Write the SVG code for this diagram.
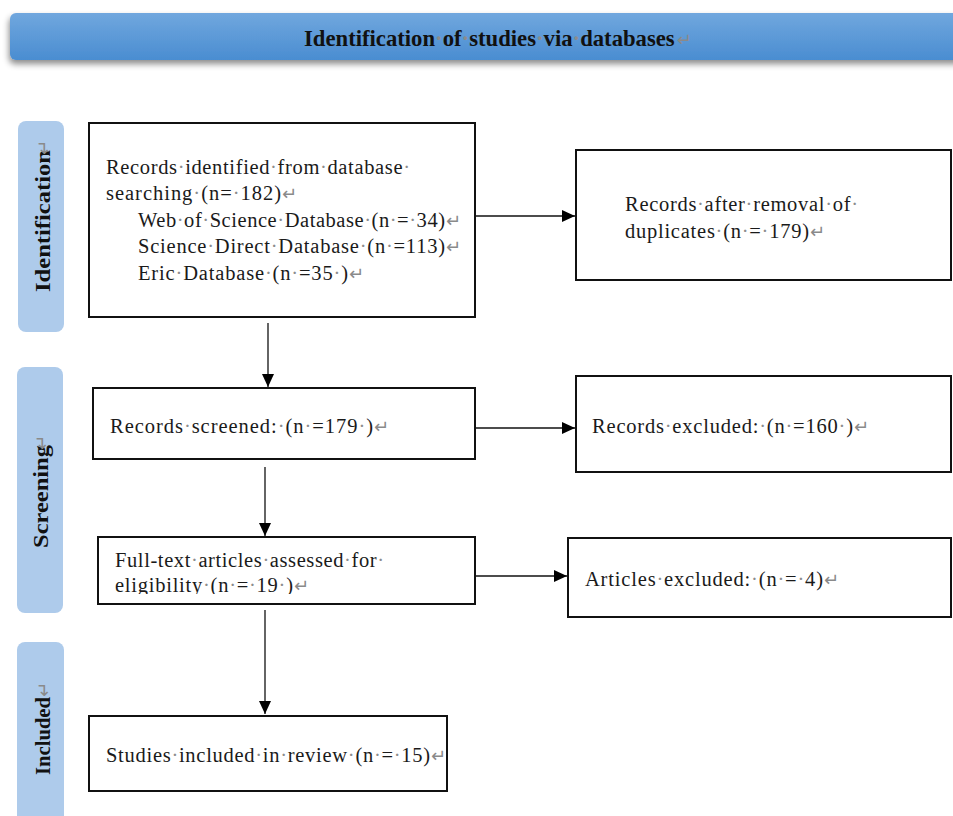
<svg xmlns="http://www.w3.org/2000/svg" width="953" height="816" viewBox="0 0 953 816">
<style>
.box{fill:#fff;stroke:#111;stroke-width:2}
.side{fill:#aecbeb}
.t{font-family:"Liberation Serif","Times New Roman",serif;font-size:20.5px;fill:#1a1a1a}
.b{font-family:"Liberation Serif","Times New Roman",serif;font-weight:bold;fill:#111}
.d{fill:#8c8c8c}
.m{font-family:"DejaVu Sans",sans-serif;font-size:18px;fill:#8a8a8a}
.c{fill:none;stroke:#111;stroke-width:1.3}
</style>
<defs>
<linearGradient id="hg" x1="0" y1="0" x2="0" y2="1">
<stop offset="0" stop-color="#70a7de"/>
<stop offset="1" stop-color="#4a8dd1"/>
</linearGradient>
<filter id="sh" x="-5%" y="-30%" width="110%" height="180%">
<feDropShadow dx="-1" dy="4" stdDeviation="3" flood-color="#000" flood-opacity="0.45"/>
</filter>
<marker id="ah" viewBox="0 0 13 12" refX="13" refY="6" markerWidth="13" markerHeight="12" markerUnits="userSpaceOnUse" orient="auto">
<path d="M0,0 L13,6 L0,12 z" fill="#000"/>
</marker>
<clipPath id="clip5"><rect x="98" y="537" width="377" height="57"/></clipPath>
</defs>
<rect width="953" height="816" fill="#fff"/>

<g id="header">
<rect x="10" y="13" width="960" height="47" rx="6" fill="url(#hg)" filter="url(#sh)"/>
<text class="b" x="304" y="46" font-size="22.7">Identification<tspan class="d">·</tspan>of<tspan class="d">·</tspan>studies<tspan class="d">·</tspan>via<tspan class="d">·</tspan>databases<tspan class="m" font-size="15" font-weight="normal" dx="2">↵</tspan></text>
</g>

<g id="stage-identification">
<rect class="side" x="18" y="121" width="46" height="211" rx="8"/>
<text class="b" font-size="20" x="50" y="292" transform="rotate(-90 50 292)" textLength="142" lengthAdjust="spacingAndGlyphs">Identification</text>
<text class="m" x="50" y="155" font-size="15" transform="rotate(-90 50 155)">↵</text>
</g>
<g id="stage-screening">
<rect class="side" x="17" y="367" width="46" height="246" rx="8"/>
<text class="b" font-size="20" x="48" y="548" transform="rotate(-90 48 548)" textLength="103" lengthAdjust="spacingAndGlyphs">Screening</text>
<text class="m" x="48" y="450" font-size="15" transform="rotate(-90 48 450)">↵</text>
</g>
<g id="stage-included">
<rect class="side" x="17" y="642" width="47" height="190" rx="8"/>
<text class="b" font-size="20" x="50" y="775" transform="rotate(-90 50 775)" textLength="78" lengthAdjust="spacingAndGlyphs">Included</text>
<text class="m" x="50" y="697" font-size="15" transform="rotate(-90 50 697)">↵</text>
</g>

<g id="connectors">
<path class="c" d="M476,216 H575" marker-end="url(#ah)"/>
<path class="c" d="M268,323 V387" marker-end="url(#ah)"/>
<path class="c" d="M476,428 H575" marker-end="url(#ah)"/>
<path class="c" d="M265,467 V536" marker-end="url(#ah)"/>
<path class="c" d="M476,576 H567" marker-end="url(#ah)"/>
<path class="c" d="M265,610 V714" marker-end="url(#ah)"/>
</g>

<g id="n-identified">
<rect class="box" x="89" y="123" width="386" height="194"/>
<text class="t" x="106" y="174" textLength="304" lengthAdjust="spacing">Records<tspan class="d">·</tspan>identified<tspan class="d">·</tspan>from<tspan class="d">·</tspan>database<tspan class="d">·</tspan></text>
<text class="t" x="106" y="200" textLength="175" lengthAdjust="spacing">searching<tspan class="d">·</tspan>(n=<tspan class="d">·</tspan>182)</text>
<text class="m" x="282" y="200">↵</text>
<text class="t" x="138" y="227" textLength="307" lengthAdjust="spacing">Web<tspan class="d">·</tspan>of<tspan class="d">·</tspan>Science<tspan class="d">·</tspan>Database<tspan class="d">·</tspan>(n<tspan class="d">·</tspan>=<tspan class="d">·</tspan>34)</text>
<text class="m" x="446" y="227">↵</text>
<text class="t" x="138" y="253" textLength="307" lengthAdjust="spacing">Science<tspan class="d">·</tspan>Direct<tspan class="d">·</tspan>Database<tspan class="d">·</tspan>(n<tspan class="d">·</tspan>=113)</text>
<text class="m" x="446" y="253">↵</text>
<text class="t" x="138" y="280" textLength="210" lengthAdjust="spacing">Eric<tspan class="d">·</tspan>Database<tspan class="d">·</tspan>(n<tspan class="d">·</tspan>=35<tspan class="d">·</tspan>)</text>
<text class="m" x="349" y="280">↵</text>
</g>

<g id="n-duplicates">
<rect class="box" x="576" y="150" width="375" height="130"/>
<text class="t" x="625" y="211" textLength="233" lengthAdjust="spacing">Records<tspan class="d">·</tspan>after<tspan class="d">·</tspan>removal<tspan class="d">·</tspan>of<tspan class="d">·</tspan></text>
<text class="t" x="625" y="238" textLength="184" lengthAdjust="spacing">duplicates<tspan class="d">·</tspan>(n<tspan class="d">·</tspan>=<tspan class="d">·</tspan>179)</text>
<text class="m" x="810" y="238">↵</text>
</g>

<g id="n-screened">
<rect class="box" x="93" y="388" width="382" height="71"/>
<text class="t" x="110" y="433" textLength="263" lengthAdjust="spacing">Records<tspan class="d">·</tspan>screened:<tspan class="d">·</tspan>(n<tspan class="d">·</tspan>=179<tspan class="d">·</tspan>)</text>
<text class="m" x="374" y="433">↵</text>
</g>

<g id="n-excluded">
<rect class="box" x="576" y="376" width="375" height="96"/>
<text class="t" x="592" y="433" textLength="261" lengthAdjust="spacing">Records<tspan class="d">·</tspan>excluded:<tspan class="d">·</tspan>(n<tspan class="d">·</tspan>=160<tspan class="d">·</tspan>)</text>
<text class="m" x="854" y="433">↵</text>
</g>

<g id="n-fulltext">
<rect class="box" x="98" y="537" width="377" height="67"/>
<g clip-path="url(#clip5)">
<text class="t" x="115" y="567" textLength="269" lengthAdjust="spacing">Full-text<tspan class="d">·</tspan>articles<tspan class="d">·</tspan>assessed<tspan class="d">·</tspan>for<tspan class="d">·</tspan></text>
<text class="t" x="115" y="592" textLength="178" lengthAdjust="spacing">eligibility<tspan class="d">·</tspan>(n<tspan class="d">·</tspan>=<tspan class="d">·</tspan>19<tspan class="d">·</tspan>)</text>
<text class="m" x="294" y="592">↵</text>
</g>
</g>

<g id="n-articles-excluded">
<rect class="box" x="568" y="538" width="383" height="79"/>
<text class="t" x="585" y="586" textLength="238" lengthAdjust="spacing">Articles<tspan class="d">·</tspan>excluded:<tspan class="d">·</tspan>(n<tspan class="d">·</tspan>=<tspan class="d">·</tspan>4)</text>
<text class="m" x="824" y="586">↵</text>
</g>

<g id="n-included">
<rect class="box" x="89" y="716" width="358" height="75"/>
<text class="t" x="106" y="762" textLength="324" lengthAdjust="spacing">Studies<tspan class="d">·</tspan>included<tspan class="d">·</tspan>in<tspan class="d">·</tspan>review<tspan class="d">·</tspan>(n<tspan class="d">·</tspan>=<tspan class="d">·</tspan>15)</text>
<text class="m" x="431" y="762">↵</text>
</g>
</svg>
